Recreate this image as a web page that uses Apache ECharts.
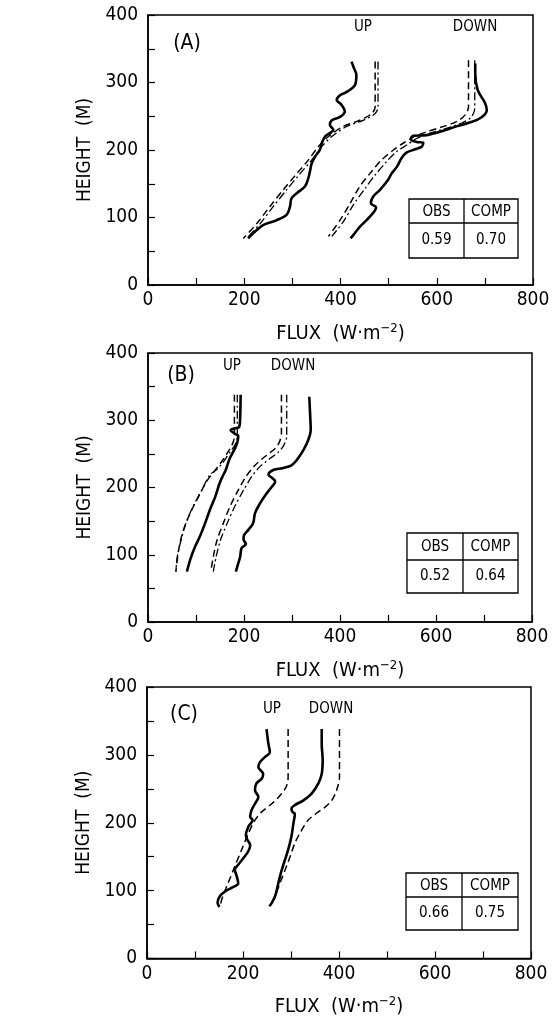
<!DOCTYPE html>
<html><head><meta charset="utf-8">
<script src="https://cdn.jsdelivr.net/npm/echarts@6/dist/echarts.min.js"></script>
<style>html,body{margin:0;padding:0;background:#fff}#c{width:553px;height:1018px}</style>
</head><body><div id="c"></div>
<script>
// ---- Data: [flux (W m-2), height (m)] ----
const panelLabels = ['(A)', '(B)', '(C)'];
const tableHead = ['OBS', 'COMP'];
const tableObs = ['0.59', '0.52', '0.66'];
const tableComp = ['0.70', '0.64', '0.75'];
const xTicks = [0, 200, 400, 600, 800];
const yTicks = [0, 100, 200, 300, 400];

// Panel A
const A_UP_OBS = [[423,331],[427,323],[433,311],[430,296],[413,286],[399,281],[392,274],[402,267],[409,257],[399,249],[382,244],[378,237],[385,230],[378,225],[368,220],[361,210],[357,200],[347,190],[340,180],[337,170],[333,158],[326,146],[309,136],[298,128],[295,116],[288,104],[267,96],[240,89],[219,77],[208,69]];
const A_UP_COMP1 = [[472,331],[472,264],[465,254],[440,244],[406,235],[375,220],[354,205],[333,185],[309,165],[281,141],[253,116],[226,91],[198,69]];
const A_UP_COMP2 = [[478,331],[478,264],[472,254],[447,244],[413,235],[382,220],[361,205],[340,185],[316,165],[288,141],[260,116],[233,91],[205,69]];
const A_DN_OBS = [[680,328],[680,314],[685,289],[700,270],[704,259],[690,247],[665,240],[641,235],[607,227],[579,222],[551,221],[546,216],[558,212],[572,211],[569,205],[555,201],[537,196],[527,188],[517,175],[506,165],[499,156],[482,141],[468,131],[463,121],[474,115],[468,107],[454,96],[440,86],[430,77],[421,69]];
const A_DN_COMP1 = [[666,333],[666,264],[659,252],[641,242],[610,234],[579,227],[551,219],[530,210],[510,200],[485,185],[461,165],[440,146],[420,121],[399,96],[375,72]];
const A_DN_COMP2 = [[679,333],[679,262],[672,249],[652,240],[620,232],[586,225],[558,217],[537,207],[517,198],[496,183],[472,163],[451,143],[427,119],[406,94],[382,72]];

// Panel B
const B_UP_OBS = [[193,338],[192,305],[190,290],[181,288],[172,285],[181,280],[188,277],[187,270],[183,261],[176,251],[169,241],[162,226],[155,216],[149,206],[140,186],[129,167],[119,147],[108,127],[98,112],[89,95],[81,75]];
const B_UP_COMP1 = [[180,338],[180,276],[175,263],[165,251],[153,238],[138,224],[122,209],[105,186],[88,162],[74,137],[65,112],[58,75]];
const B_UP_COMP2 = [[186,338],[186,276],[181,263],[169,251],[157,238],[142,226],[129,219],[112,196],[94,172],[79,147],[69,122],[61,97],[58,75]];
const B_DN_OBS = [[336,335],[338,305],[339,286],[334,271],[324,256],[310,241],[299,233],[282,229],[261,226],[251,219],[259,214],[265,209],[258,201],[247,191],[233,176],[223,162],[219,147],[209,137],[200,129],[199,123],[204,116],[195,110],[192,97],[188,87],[183,75]];
const B_DN_COMP1 = [[278,338],[278,281],[274,268],[265,258],[247,248],[223,233],[204,216],[188,196],[171,172],[157,147],[144,122],[136,97],[131,75]];
const B_DN_COMP2 = [[289,338],[289,276],[283,263],[272,253],[254,243],[233,231],[216,216],[199,196],[181,172],[165,147],[151,122],[142,97],[136,75]];

// Panel C
const C_UP_OBS = [[249,338],[253,316],[256,304],[246,297],[235,289],[232,282],[242,272],[239,265],[228,258],[225,248],[232,238],[225,228],[218,219],[215,209],[220,204],[211,194],[206,182],[209,175],[215,167],[211,158],[201,148],[190,138],[183,131],[187,121],[190,111],[176,104],[163,99],[152,92],[147,82],[151,76]];
const C_UP_COMP = [[294,338],[294,267],[290,253],[277,240],[260,228],[239,216],[225,204],[211,184],[197,160],[183,136],[169,111],[158,92],[152,77]];
const C_DN_OBS = [[364,338],[364,316],[366,292],[364,272],[357,258],[343,243],[326,233],[308,226],[301,221],[303,216],[308,213],[305,199],[301,180],[294,160],[285,140],[277,121],[272,106],[267,92],[260,82],[255,77]];
const C_DN_COMP = [[401,338],[401,267],[395,248],[385,233],[371,223],[353,214],[336,204],[322,189],[308,170],[298,150],[288,131],[277,111],[267,92],[258,80]];

const FONT = "'Liberation Sans Narrow','DejaVu Sans Condensed','DejaVu Sans',sans-serif";
const grids = [
  {left:148, top:15, width:385, height:270},
  {left:148, top:353, width:384, height:269},
  {left:147, top:687, width:384, height:274}
];

function xAx(i){
  return {gridIndex:i, type:'value', min:0, max:800, interval:200,
    axisLine:{show:true, onZero:false, lineStyle:{color:'#000', width:1.5}},
    axisTick:{show:true, inside:true, length:7, lineStyle:{color:'#000', width:1.2}},
    minorTick:{show:true, splitNumber:2, length:7, lineStyle:{color:'#000', width:1.2}},
    splitLine:{show:false}, minorSplitLine:{show:false},
    axisLabel:{color:'#000', fontSize:19, margin:6, fontFamily:FONT},
    name:'FLUX  (W·m{sup|−2})', nameLocation:'middle', nameGap:37,
    nameTextStyle:{color:'#000', fontSize:20, fontFamily:FONT,
      rich:{sup:{fontSize:13, fontFamily:FONT, color:'#000', padding:[0,0,10,0]}}}
  };
}
function yAx(i){
  return {gridIndex:i, type:'value', min:0, max:400, interval:100,
    axisLine:{show:true, onZero:false, lineStyle:{color:'#000', width:1.5}},
    axisTick:{show:true, inside:true, length:7, lineStyle:{color:'#000', width:1.2}},
    minorTick:{show:true, splitNumber:2, length:7, lineStyle:{color:'#000', width:1.2}},
    splitLine:{show:false}, minorSplitLine:{show:false},
    axisLabel:{color:'#000', fontSize:19, margin:10, fontFamily:FONT},
    name:'HEIGHT  (M)', nameLocation:'middle', nameGap:52, nameRotate:90,
    nameTextStyle:{color:'#000', fontSize:19, fontFamily:FONT}
  };
}
function obs(i, d){ return {type:'line', xAxisIndex:i, yAxisIndex:i, data:d, showSymbol:false, smooth:0.35,
  lineStyle:{color:'#000', width:2.6}, silent:true}; }
function dashed(i, d){ return {type:'line', xAxisIndex:i, yAxisIndex:i, data:d, showSymbol:false, smooth:0.3,
  lineStyle:{color:'#000', width:1.5, type:[7,4]}, silent:true}; }
function dashdot(i, d){ return {type:'line', xAxisIndex:i, yAxisIndex:i, data:d, showSymbol:false, smooth:0.3,
  lineStyle:{color:'#000', width:1.3, type:[8,3,2,3]}, silent:true}; }

const series = [
  obs(0, A_UP_OBS), dashed(0, A_UP_COMP1), dashdot(0, A_UP_COMP2),
  obs(0, A_DN_OBS), dashed(0, A_DN_COMP1), dashdot(0, A_DN_COMP2),
  obs(1, B_UP_OBS), dashed(1, B_UP_COMP1), dashdot(1, B_UP_COMP2),
  obs(1, B_DN_OBS), dashed(1, B_DN_COMP1), dashdot(1, B_DN_COMP2),
  obs(2, C_UP_OBS), dashed(2, C_UP_COMP),
  obs(2, C_DN_OBS), dashed(2, C_DN_COMP)
];

// annotation layout (pixels)
const tables = [
  {x:409, y:199, w:109, h:59, hy:223, cx:464},
  {x:407, y:533, w:111, h:60, hy:560, cx:463},
  {x:406, y:873, w:112, h:57, hy:897, cx:462}
];
const labelPos = [
  {p:[187,44], up:[363,27], dn:[475,27]},
  {p:[181,376], up:[232,366], dn:[293,366]},
  {p:[184,715], up:[272,709], dn:[331,709]}
];
const graphic = [];
const T = (x,y,txt,fs,align) => ({type:'text', x:x, y:y, style:{text:txt, fill:'#000', font: fs+'px '+FONT, align:align||'center', verticalAlign:'middle'}});
for (let i=0;i<3;i++){
  const t = tables[i];
  graphic.push({type:'rect', shape:{x:t.x, y:t.y, width:t.w, height:t.h}, style:{fill:'#fff', stroke:'#000', lineWidth:1.3}});
  graphic.push({type:'line', shape:{x1:t.x, y1:t.hy, x2:t.x+t.w, y2:t.hy}, style:{stroke:'#000', lineWidth:1.3}});
  graphic.push({type:'line', shape:{x1:t.cx, y1:t.y, x2:t.cx, y2:t.y+t.h}, style:{stroke:'#000', lineWidth:1.3}});
  graphic.push(T((t.x+t.cx)/2, (t.y+t.hy)/2+1, tableHead[0], 15));
  graphic.push(T((t.cx+t.x+t.w)/2, (t.y+t.hy)/2+1, tableHead[1], 15));
  graphic.push(T((t.x+t.cx)/2, (t.hy+t.y+t.h)/2, tableObs[i], 15));
  graphic.push(T((t.cx+t.x+t.w)/2, (t.hy+t.y+t.h)/2, tableComp[i], 15));
  const l = labelPos[i];
  graphic.push(T(l.p[0], l.p[1], panelLabels[i], 21));
  graphic.push(T(l.up[0], l.up[1], 'UP', 15));
  graphic.push(T(l.dn[0], l.dn[1], 'DOWN', 15));
}

const chart = echarts.init(document.getElementById('c'), null, {renderer:'canvas'});
chart.setOption({
  backgroundColor:'#fff',
  animation:false,
  grid: grids.map(g => Object.assign({show:true, borderColor:'#000', borderWidth:1.5, backgroundColor:'transparent'}, g)),
  xAxis:[xAx(0), xAx(1), xAx(2)],
  yAxis:[yAx(0), yAx(1), yAx(2)],
  series: series,
  graphic: graphic
});
</script></body></html>
